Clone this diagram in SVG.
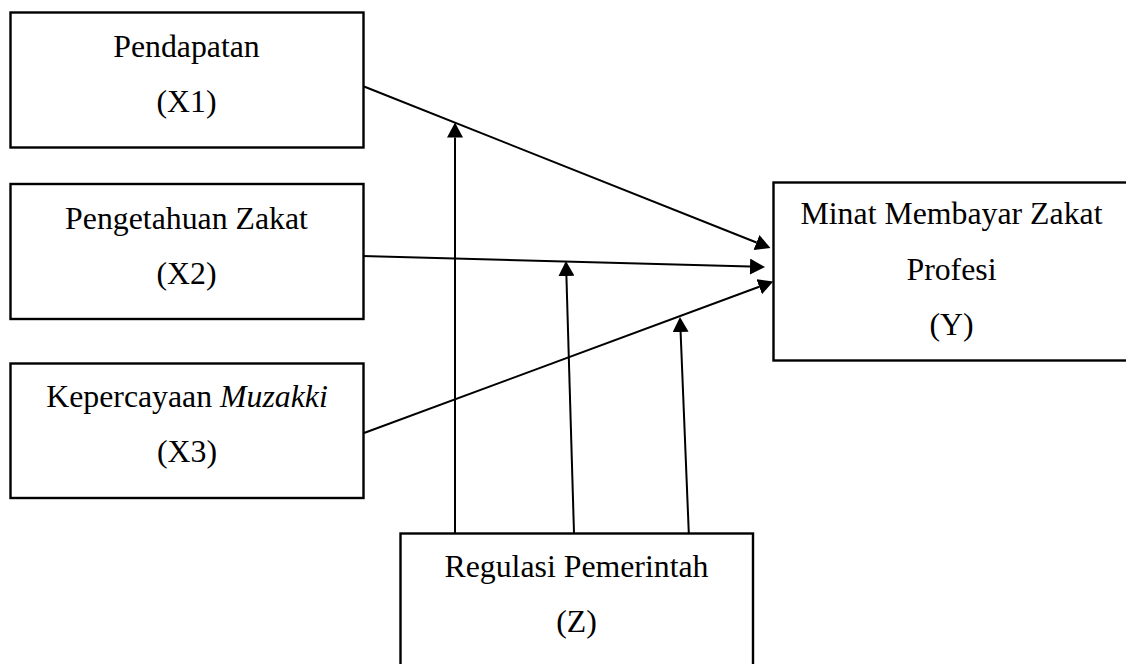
<svg xmlns="http://www.w3.org/2000/svg" width="1126" height="664" viewBox="0 0 1126 664">
  <style>
    .box { fill: #ffffff; stroke: #000000; stroke-width: 2.4; }
    .lbl { font-family: "Liberation Serif", "Times New Roman", serif; font-size: 31.8px; fill: #000000; text-anchor: middle; }
    .edge { stroke: #000000; stroke-width: 2; fill: none; marker-end: url(#arrow); }
  </style>
  <defs>
    <marker id="arrow" markerUnits="userSpaceOnUse" markerWidth="16" markerHeight="16" refX="0" refY="8" orient="auto" viewBox="0 0 16 16">
      <path d="M0,0 L15,8 L0,16 Z" fill="#000000"/>
    </marker>
  </defs>
  <rect width="1126" height="664" fill="#ffffff"/>

  <g id="connectors">
    <line class="edge" x1="364" y1="86.5" x2="756.5" y2="242.5"/>
    <line class="edge" x1="362" y1="256" x2="750" y2="266.6"/>
    <line class="edge" x1="364" y1="433" x2="759.2" y2="286.7"/>
    <line class="edge" x1="455" y1="533" x2="455" y2="137.5"/>
    <line class="edge" x1="574" y1="533" x2="566.4" y2="276"/>
    <line class="edge" x1="689" y1="538" x2="680.6" y2="332"/>
  </g>

  <g id="node-x1">
    <rect class="box" x="10.5" y="12.5" width="353" height="135"/>
    <text class="lbl" x="186.5" y="57">Pendapatan</text>
    <text class="lbl" x="186.5" y="112">(X1)</text>
  </g>

  <g id="node-x2">
    <rect class="box" x="10.5" y="184" width="353" height="135"/>
    <text class="lbl" x="186.5" y="229">Pengetahuan Zakat</text>
    <text class="lbl" x="186.5" y="284">(X2)</text>
  </g>

  <g id="node-x3">
    <rect class="box" x="10.5" y="363.5" width="353" height="134.5"/>
    <text class="lbl" x="187" y="407">Kepercayaan <tspan font-style="italic">Muzakki</tspan></text>
    <text class="lbl" x="187" y="462">(X3)</text>
  </g>

  <g id="node-y">
    <rect class="box" x="773.5" y="182.5" width="360" height="178"/>
    <text class="lbl" x="951.5" y="224">Minat Membayar Zakat</text>
    <text class="lbl" x="951.5" y="280">Profesi</text>
    <text class="lbl" x="951.5" y="335">(Y)</text>
  </g>

  <g id="node-z">
    <rect class="box" x="400.5" y="533.5" width="352.5" height="140"/>
    <text class="lbl" x="576.5" y="577">Regulasi Pemerintah</text>
    <text class="lbl" x="576.5" y="632">(Z)</text>
  </g>
</svg>
